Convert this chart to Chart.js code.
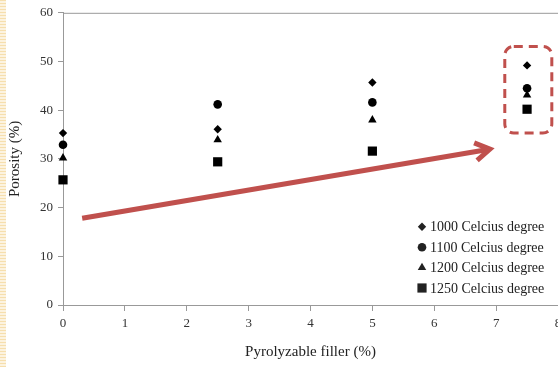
<!DOCTYPE html>
<html>
<head>
<meta charset="utf-8">
<script src="https://cdn.jsdelivr.net/npm/chart.js@4"></script>
<style>
  html, body { margin: 0; padding: 0; background: #fff; }
  #wrap { position: relative; width: 558px; height: 367px; }
  #strip {
    position: absolute; left: 0; top: 0; width: 6px; height: 367px;
    background: repeating-linear-gradient(to bottom, #f6dfae 0px, #f6dfae 1px, #fcf3e0 1px, #fcf3e0 3px);
  }
  canvas { position: absolute; left: 0; top: 0; }
</style>
</head>
<body>
<div id="wrap">
  <canvas id="chart" width="558" height="367"></canvas>
  <div id="strip"></div>
</div>
<script>
const fillerLevels = [0, 2.5, 5, 7.5];
const porosity1000 = [35.3, 36.1, 45.7, 49.2];
const porosity1100 = [32.9, 41.2, 41.6, 44.5];
const porosity1200 = [30.2, 33.9, 38.0, 43.1];
const porosity1250 = [25.7, 29.4, 31.6, 40.2];
const seriesLabels = ['1000 Celcius degree', '1100 Celcius degree', '1200 Celcius degree', '1250 Celcius degree'];

// annotations, in data units (x, y)
const arrowFrom = [0.31, 17.8];
const arrowTo = [6.9, 32.0];
const highlightBox = [7.14, 53.1, 7.9, 35.3]; // x1, yTop, x2, yBottom

const serif = 'Liberation Serif';
const red = '#c0504d';

const styles = [
  { pointStyle: 'rectRot', radius: 4.2 },
  { pointStyle: 'circle', radius: 4.3 },
  { pointStyle: 'triangle', radius: 4.9 },
  { pointStyle: 'rect', radius: 6.5 }
];

function toPoints(values) {
  return fillerLevels.map((x, i) => ({ x: x, y: values[i] }));
}

function marker(ctx, style, x, y, r) {
  ctx.beginPath();
  if (style === 'circle') {
    ctx.arc(x, y, r, 0, Math.PI * 2);
  } else if (style === 'rectRot') {
    ctx.moveTo(x, y - r); ctx.lineTo(x + r, y); ctx.lineTo(x, y + r); ctx.lineTo(x - r, y);
  } else if (style === 'triangle') {
    ctx.moveTo(x, y - r); ctx.lineTo(x + r * 0.866, y + r / 2); ctx.lineTo(x - r * 0.866, y + r / 2);
  } else {
    const h = r * Math.SQRT1_2;
    ctx.rect(x - h, y - h, 2 * h, 2 * h);
  }
  ctx.closePath();
  ctx.fill();
}

const extras = {
  id: 'extras',
  afterDatasetsDraw(chart) {
    const ctx = chart.ctx;
    const a = chart.chartArea;
    const xs = chart.scales.x, ys = chart.scales.y;
    ctx.save();

    // frame top
    ctx.strokeStyle = '#999';
    ctx.lineWidth = 1;
    ctx.beginPath();
    ctx.moveTo(a.left, a.top + 0.5);
    ctx.lineTo(a.right, a.top + 0.5);
    ctx.stroke();

    // arrow
    const x1 = xs.getPixelForValue(arrowFrom[0]), y1 = ys.getPixelForValue(arrowFrom[1]);
    const x2 = xs.getPixelForValue(arrowTo[0]), y2 = ys.getPixelForValue(arrowTo[1]);
    const ang = Math.atan2(y2 - y1, x2 - x1);
    ctx.strokeStyle = red;
    ctx.lineWidth = 5;
    ctx.lineCap = 'butt';
    ctx.beginPath();
    ctx.moveTo(x1, y1);
    ctx.lineTo(x2 - 2 * Math.cos(ang), y2 - 2 * Math.sin(ang));
    ctx.stroke();
    ctx.lineJoin = 'miter';
    ctx.beginPath();
    ctx.moveTo(x2 - 17 * Math.cos(ang - 0.55), y2 - 17 * Math.sin(ang - 0.55));
    ctx.lineTo(x2, y2);
    ctx.lineTo(x2 - 17 * Math.cos(ang + 0.55), y2 - 17 * Math.sin(ang + 0.55));
    ctx.stroke();

    // dashed box
    const bx1 = xs.getPixelForValue(highlightBox[0]), by1 = ys.getPixelForValue(highlightBox[1]);
    const bx2 = xs.getPixelForValue(highlightBox[2]), by2 = ys.getPixelForValue(highlightBox[3]);
    ctx.lineWidth = 3;
    ctx.setLineDash([9, 6]);
    ctx.beginPath();
    ctx.roundRect(bx1, by1, bx2 - bx1, by2 - by1, 9);
    ctx.stroke();
    ctx.setLineDash([]);

    // legend
    ctx.font = '14px "' + serif + '"';
    ctx.textBaseline = 'middle';
    ctx.fillStyle = '#222';
    seriesLabels.forEach((label, i) => {
      const y = a.bottom - 17 - (seriesLabels.length - 1 - i) * 20.4;
      marker(ctx, styles[i].pointStyle, 422, y, styles[i].radius);
      ctx.fillText(label, 430, y + 1);
    });
    ctx.restore();
  }
};

const config = {
  type: 'scatter',
  data: {
    datasets: [porosity1000, porosity1100, porosity1200, porosity1250].map((values, i) => ({
      label: seriesLabels[i],
      data: toPoints(values),
      pointStyle: styles[i].pointStyle,
      pointRadius: styles[i].radius,
      pointHoverRadius: styles[i].radius,
      backgroundColor: '#000',
      borderColor: '#000',
      borderWidth: 0,
      clip: false
    }))
  },
  options: {
    responsive: false,
    animation: false,
    layout: { autoPadding: false, padding: { top: 11, right: 0, left: 0, bottom: 0 } },
    plugins: { legend: { display: false }, tooltip: { enabled: false } },
    scales: {
      x: {
        type: 'linear',
        min: 0, max: 8,
        ticks: { stepSize: 1, padding: 5, color: '#333', font: { family: serif, size: 13 } },
        grid: { drawOnChartArea: false, tickLength: 6, color: '#999' },
        border: { color: '#999' },
        title: { display: true, text: 'Pyrolyzable filler (%)', color: '#222', font: { family: serif, size: 15 }, padding: { top: 0, bottom: 6 } },
        // let the "8" run off the edge like the original
        afterFit: (scale) => { scale.height = 62; scale.paddingRight = 0; scale.paddingLeft = 0; }
      },
      y: {
        min: 0, max: 60,
        ticks: { stepSize: 10, padding: 5, color: '#333', font: { family: serif, size: 13 } },
        grid: { drawOnChartArea: false, tickLength: 5, color: '#999' },
        border: { color: '#999' },
        title: { display: true, text: 'Porosity (%)', color: '#222', font: { family: serif, size: 15 }, padding: { top: 6, bottom: 0 } },
        afterFit: (scale) => { scale.width = 63; }
      }
    }
  },
  plugins: [extras]
};

new Chart(document.getElementById('chart').getContext('2d'), config);
</script>
</body>
</html>
